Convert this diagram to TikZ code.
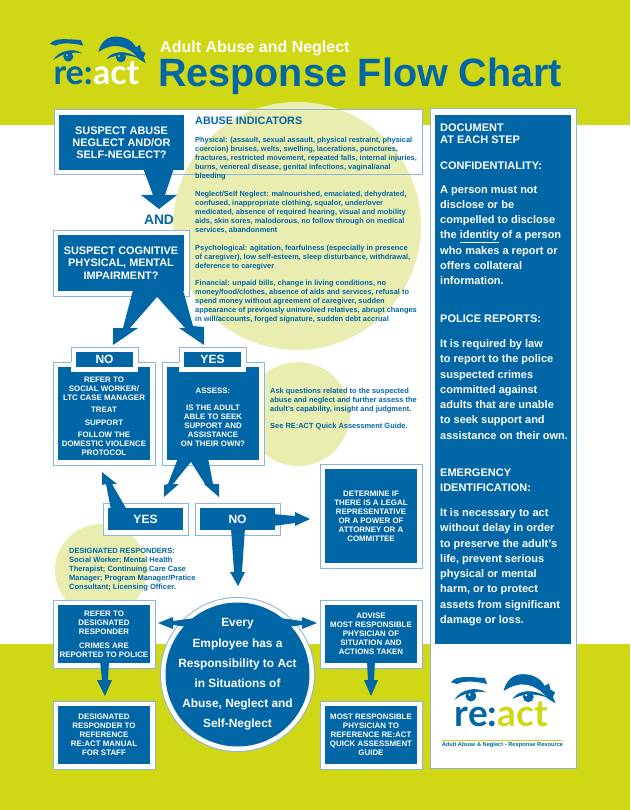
\documentclass[tikz,border=0pt]{standalone}
\usepackage{fontspec}
\setmainfont{Liberation Sans}
\newfontfamily\logofont{Lato}
\usetikzlibrary{calc}
\definecolor{flowblue}{RGB}{0,102,166}
\definecolor{limebg}{RGB}{208,216,22}
\definecolor{paleyellow}{RGB}{233,237,176}
\definecolor{frameblue}{RGB}{141,180,218}
\tikzset{
	bluebox/.style={fill=flowblue, text=white, align=center, inner sep=0pt, outer sep=0pt, font=\bfseries\fontsize{7.9}{9}\selectfont},
	framed/.style={preaction={draw=frameblue, line width=11pt}, preaction={draw=white, line width=9pt}},
	flowbox/.style={bluebox, framed},
	bigtext/.style={font=\bfseries\fontsize{10.9}{12.2}\selectfont},
	headtext/.style={font=\bfseries\fontsize{12}{13}\selectfont},
	abusetext/.style={anchor=north west, align=left, inner sep=0pt, text=flowblue, execute at begin node=\strut, font=\bfseries\fontsize{7.4}{9}\selectfont},
	sidetext/.style={anchor=north west, align=left, inner sep=0pt, text=white, execute at begin node=\strut, font=\bfseries\fontsize{11}{15.3}\selectfont},
	frameline/.style={draw=frameblue, line width=1pt}
}
% from, two tail corners (from the node), tip, then neck, wing, wing, neck (from the tip)
\newcommand{\flowarrow}[8]{
	\fill[flowblue] ($(#1)+(#2)$) -- ($(#4)+(#5)$) -- ($(#4)+(#6)$) -- (#4) -- ($(#4)+(#7)$) -- ($(#4)+(#8)$) -- ($(#1)+(#3)$) -- cycle;
}
% x, y, scale, font size, colour of the second half, colour of the pupils, prefix
\newcommand{\reactlogo}[7]{
	\begin{scope}[shift={(#1,#2)}, scale=#3]
		\fill[flowblue] (15,42) .. controls (30,22) and (65,28) .. (108,30) -- (115,47) .. controls (90,40) and (50,36) .. (32,47) -- cycle;
		\fill[flowblue] (25,90) .. controls (40,62) and (85,52) .. (112,70) .. controls (85,64) and (50,72) .. (25,90) -- cycle;
		\fill[flowblue] (70,80) circle (15);
		\fill[flowblue] (160,66) .. controls (170,25) and (200,12) .. (240,24) .. controls (258,30) and (268,42) .. (273,52) -- (285,45) -- (289,62) -- (302,70) -- (296,82) -- (303,100) -- (280,86) .. controls (262,58) and (225,42) .. (195,50) .. controls (180,54) and (170,60) .. (160,66) -- cycle;
		\fill[flowblue] (185,88) .. controls (200,62) and (245,58) .. (285,86) .. controls (250,72) and (215,72) .. (185,88) -- cycle;
		\fill[flowblue] (228,82) circle (15);
		\fill[#6] (66,76) circle (3.5);
		\fill[#6] (222,78) circle (3.5);
		\node[anchor=base west, inner sep=0pt, text=flowblue, font=\logofont\bfseries\fontsize{#4}{#4}\selectfont] (#7re) at (25,165) {re:};
		\node[anchor=base west, inner sep=0pt, text=#5, font=\logofont\bfseries\fontsize{#4}{#4}\selectfont] (#7act) at (#7re.base east) {act};
	\end{scope}
}
\begin{document}
\begin{tikzpicture}[x=1pt, y=-1pt]
	\useasboundingbox (0,0) rectangle (630,810);
	%\draw (0,0) grid (630,810);
	\fill[limebg] (0,0) rectangle (630,125);
	\fill[limebg] (0,644) rectangle (630,810);
	\fill[white] (54,110) rectangle (422,175);
	\fill[paleyellow] (297,226) circle (124);
	\fill[paleyellow] (298,414) circle (52);
	\fill[paleyellow] (101,570) circle (46);
	\draw[frameline] (54,110) rectangle (422,175);

	\reactlogo{45}{30}{0.333}{34}{white}{limebg}{top}
	\node[anchor=base west, inner sep=0pt, text=white, font=\bfseries\fontsize{16}{16}\selectfont] (subtitle) at (160,53) {Adult Abuse and Neglect};
	\node[anchor=base west, inner sep=0pt, text=flowblue, font=\bfseries\fontsize{39.5}{40}\selectfont] (title) at (158,87) {Response Flow Chart};

	\node[bluebox, bigtext, minimum width=125pt, minimum height=55pt] (suspect) at (121.5,142.5) {SUSPECT ABUSE\\NEGLECT AND/OR\\SELF-NEGLECT?};
	\node[text=flowblue, font=\bfseries\fontsize{13.8}{14}\selectfont] (and) at (159,220) {AND};
	\node[flowbox, bigtext, minimum width=126pt, minimum height=56pt] (cognitive) at (121,263) {SUSPECT COGNITIVE\\PHYSICAL, MENTAL\\IMPAIRMENT?};

	\node[text=flowblue, anchor=base west, inner sep=0pt, font=\bfseries\fontsize{10.8}{11}\selectfont] (abusehead) at (195,125) {ABUSE INDICATORS};
	\node[abusetext] (physical) at (195,137) {Physical: (assault, sexual assault, physical restraint, physical\\coercion) bruises, welts, swelling, lacerations, punctures,\\fractures, restricted movement, repeated falls, internal injuries,\\burns, venereal disease, genital infections, vaginal/anal\\bleeding};
	\node[abusetext] (neglect) at (195,191) {Neglect/Self Neglect: malnourished, emaciated, dehydrated,\\confused, inappropriate clothing, squalor, under/over\\medicated, absence of required hearing, visual and mobility\\aids, skin sores, malodorous, no follow through on medical\\services, abandonment};
	\node[abusetext] (psycho) at (195,245) {Psychological: agitation, fearfulness (especially in presence\\of caregiver), low self-esteem, sleep disturbance, withdrawal,\\deference to caregiver};
	\node[abusetext] (financial) at (195,280) {Financial: unpaid bills, change in living conditions, no\\money/food/clothes, absence of aids and services, refusal to\\spend money without agreement of caregiver, sudden\\appearance of previously uninvolved relatives, abrupt changes\\in will/accounts, forged signature, sudden debt accrual};

	\node[flowbox, minimum width=92pt, minimum height=93pt] (referworker) at (104,413.5) {\rule{0pt}{11pt}REFER TO\\SOCIAL WORKER/\\LTC CASE MANAGER\\[3pt]TREAT\\[4pt]SUPPORT\\[3pt]FOLLOW THE\\DOMESTIC VIOLENCE\\PROTOCOL};
	\node[flowbox, minimum width=92pt, minimum height=93pt] (assess) at (213,413.5) {\rule{0pt}{14pt}ASSESS:\\[8pt]IS THE ADULT\\ABLE TO SEEK\\SUPPORT AND\\ASSISTANCE\\ON THEIR OWN?};
	\node[bluebox, headtext, minimum width=57pt, minimum height=15pt, preaction={draw=white, line width=10pt}] (nohead) at (104.5,359.5) {NO};
	\node[bluebox, headtext, minimum width=57pt, minimum height=15pt, preaction={draw=white, line width=10pt}] (yeshead) at (212.5,359.5) {YES};
	\foreach \head in {nohead,yeshead}
		\draw[frameline] ($(\head.south west)+(-5,-5)$) -- ($(\head.north west)+(-5,-5)$) -- ($(\head.north east)+(5,-5)$) -- ($(\head.south east)+(5,-5)$);

	\node[anchor=north west, align=left, inner sep=0pt, text=flowblue, execute at begin node=\strut, font=\bfseries\fontsize{7.45}{8.7}\selectfont] (askquestions) at (270,388) {Ask questions related to the suspected\\abuse and neglect and further assess the\\adult's capability, insight and judgment.\\[8.7pt]See RE:ACT Quick Assessment Guide.};

	\node[flowbox, headtext, minimum width=75pt, minimum height=22pt] (yesbox) at (145.5,519) {YES};
	\node[flowbox, headtext, minimum width=75pt, minimum height=22pt] (nobox) at (237.5,519) {NO};
	\node[flowbox, minimum width=92pt, minimum height=94pt] (determine) at (371,516) {DETERMINE IF\\THERE IS A LEGAL\\REPRESENTATIVE\\OR A POWER OF\\ATTORNEY OR A\\COMMITTEE};
	\node[anchor=north west, align=left, inner sep=0pt, text=flowblue, execute at begin node=\strut, font=\bfseries\fontsize{7.5}{8.9}\selectfont] (responders) at (69,548) {DESIGNATED RESPONDERS:\\Social Worker; Mental Health\\Therapist; Continuing Care Case\\Manager; Program Manager/Pratice\\Consultant; Licensing Officer.};

	\node[flowbox, minimum width=92pt, minimum height=58pt] (refer) at (104,634) {REFER TO\\DESIGNATED\\RESPONDER\\[5pt]CRIMES ARE\\REPORTED TO POLICE};
	\node[flowbox, minimum width=92pt, minimum height=58pt] (designated) at (104,735) {DESIGNATED\\RESPONDER TO\\REFERENCE\\RE:ACT MANUAL\\FOR STAFF};
	\node[flowbox, minimum width=92pt, minimum height=58pt] (advise) at (371,634) {ADVISE\\MOST RESPONSIBLE\\PHYSICIAN OF\\SITUATION AND\\ACTIONS TAKEN};
	\node[flowbox, minimum width=92pt, minimum height=58pt] (physician) at (371,735) {MOST RESPONSIBLE\\PHYSICIAN TO\\REFERENCE RE:ACT\\QUICK ASSESSMENT\\GUIDE};
	\node[circle, fill=flowblue, framed, inner sep=0pt, outer sep=0pt, minimum size=144pt] (respond) at (237.5,674.5) {};
	\node[text=white, align=center, inner sep=0pt, font=\bfseries\fontsize{11.9}{20.2}\selectfont] (respondtext) at (respond.center) {Every\\Employee has a\\Responsibility to Act\\in Situations of\\Abuse, Neglect and\\Self-Neglect};

	\coordinate (andtip) at (159,209);
	\coordinate (notip) at (113,345);
	\coordinate (yestip) at (204,345);
	\coordinate (lefttip) at (164,497);
	\coordinate (righttip) at (219,497);
	\coordinate (workertip) at (102,472);
	\coordinate (determinetip) at (310,519);
	\coordinate (circletip) at (238,586);
	\coordinate (refertip) at (158,623);
	\coordinate (advisetip) at (317,623);
	\coordinate (designatedtip) at (105,696);
	\coordinate (physiciantip) at (371,696);
	\flowarrow{suspect.south}{21.5,-2}{52.5,-2}{andtip}{-6,-14}{-18,-14}{18,-14}{6,-14}
	\flowarrow{cognitive.south}{12,-1}{42,-1}{notip}{10,-17}{0,-17}{25,-17}{17,-17}
	\flowarrow{cognitive.south}{62,-1}{30,-1}{yestip}{-11,-19}{0,-18}{-25,-17}{-19,-17}
	\flowarrow{assess.south}{-35,-2}{-19,-2}{lefttip}{4,-13}{0,-12}{15,-13}{9,-13}
	\flowarrow{assess.south}{-5,-2}{-24.5,-2}{righttip}{-6,-13}{0,-13}{-15,-13}{-14,-13}
	\flowarrow{yesbox.north}{-34.5,2}{-18.5,2}{workertip}{4,12}{0,13}{15,12}{10,12}
	\flowarrow{nobox.east}{-2,-5}{-2,7}{determinetip}{-15,-3}{-15,-7}{-15,7}{-15,4}
	\flowarrow{nobox.south}{-6.5,-2}{7.5,-2}{circletip}{-4,-14}{-8,-14}{7,-14}{4,-14}
	\flowarrow{respond.center}{-42.5,-56.5}{-42.5,-46.5}{refertip}{15,-2}{15,-6}{15,6}{15,2}
	\flowarrow{respond.center}{42.5,-56.5}{42.5,-46.5}{advisetip}{-15,-2}{-15,-6}{-15,6}{-15,2}
	\flowarrow{refer.south}{-4,-2}{5,-2}{designatedtip}{-3,-16}{-8,-16}{7,-16}{3,-16}
	\flowarrow{advise.south}{-4,-2}{4,-2}{physiciantip}{-3,-16}{-7,-16}{7,-16}{3,-16}

	\fill[white] (430,109) rectangle (576,768);
	\draw[frameline] (430,109) rectangle (576,768);
	\node[fill=flowblue, inner sep=0pt, outer sep=0pt, minimum width=136pt, minimum height=529pt] (sidepanel) at (503,379.5) {};
	\node[sidetext, font=\bfseries\fontsize{11}{12}\selectfont] (document) at (440,123.6) {DOCUMENT\\AT EACH STEP};
	\node[sidetext] (confidential) at (440,158.3) {CONFIDENTIALITY:};
	\node[sidetext] (confidentialbody) at (440,185.3) {A person must not\\disclose or be\\compelled to disclose\\the \underline{identity} of a person\\who makes a report or\\offers collateral\\information.};
	\node[sidetext] (police) at (440,311.3) {POLICE REPORTS:};
	\node[sidetext] (policebody) at (440,339.3) {It is required by law\\to report to the police\\suspected crimes\\committed against\\adults that are unable\\to seek support and\\assistance on their own.};
	\node[sidetext] (emergency) at (440,468.3) {EMERGENCY\\IDENTIFICATION:};
	\node[sidetext] (emergencybody) at (440,508.3) {It is necessary to act\\without delay in order\\to preserve the adult's\\life, prevent serious\\physical or mental\\harm, or to protect\\assets from significant\\damage or loss.};

	\reactlogo{445.5}{667}{0.363}{37}{limebg}{white}{side}
	\draw[limebg, line width=0.7pt] (442,740) -- (563,740);
	\node[text=flowblue, inner sep=0pt, font=\bfseries\fontsize{5.7}{6}\selectfont] (tagline) at (502.5,745) {Adult Abuse \& Neglect - Response Resource};
\end{tikzpicture}
\end{document}
